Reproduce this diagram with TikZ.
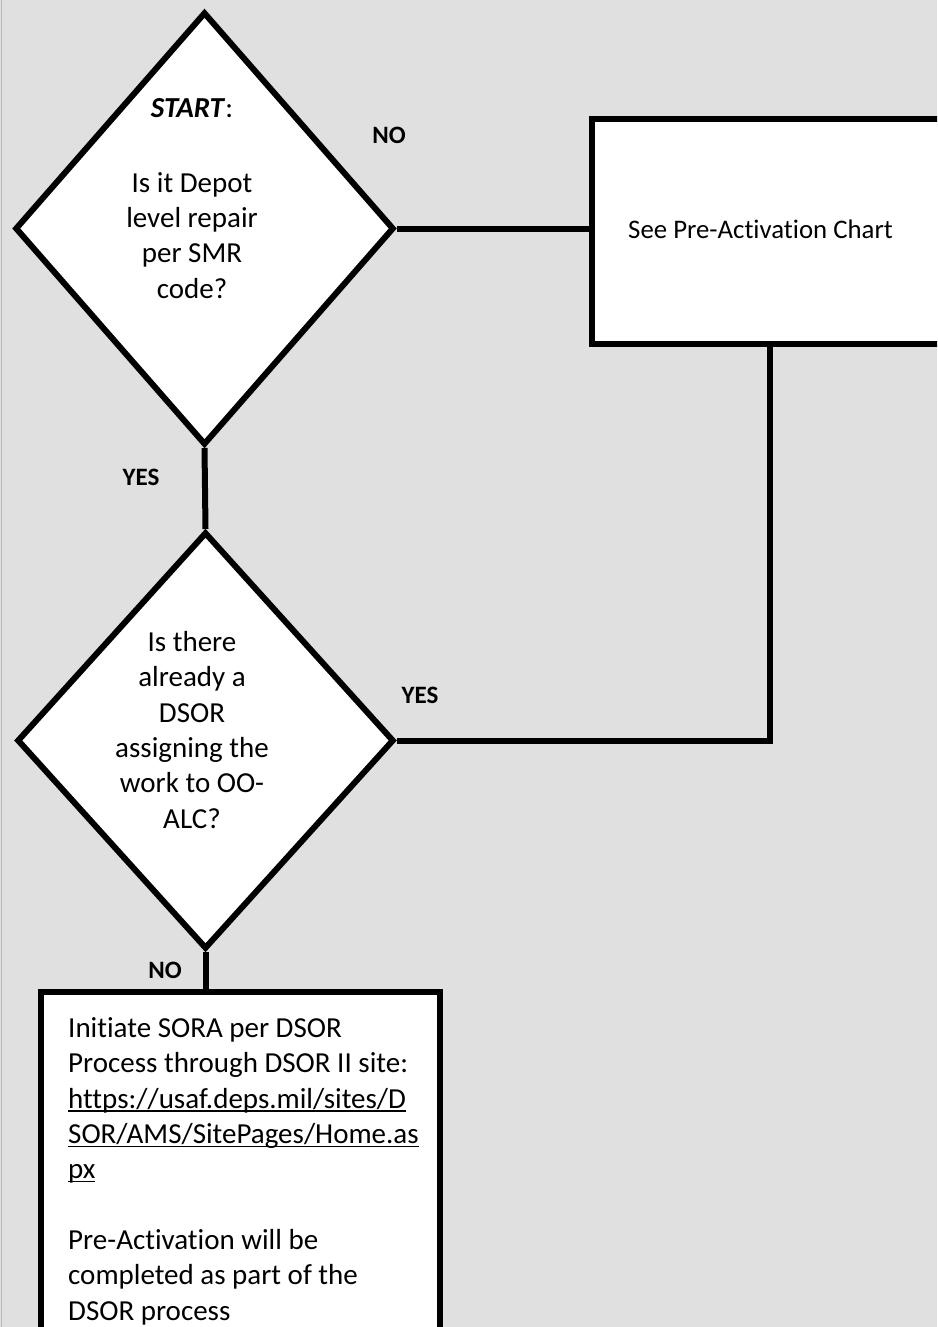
\documentclass[tikz,border=0pt]{standalone}
\usepackage{fontspec}
\setmainfont[RawFeature=-liga]{Carlito}
\usetikzlibrary{shapes.geometric}
\definecolor{pagebg}{HTML}{E0E0E0}
\definecolor{pageedge}{HTML}{B8B8B8}
% underline drawn as a rule at a fixed depth below the baseline
\newcommand\lnk[1]{\setbox0\hbox{#1}\rlap{\rule[-3.5pt]{\wd0}{1.4pt}}\box0}
\begin{document}
\begin{tikzpicture}[x=1pt,y=-1pt,
  decision/.style={diamond, draw=black, line width=6pt, fill=white, inner sep=0pt, line join=miter},
  stepbox/.style={rectangle, draw=black, line width=6pt, fill=white, inner sep=0pt},
  flow/.style={draw=black, line width=6pt},
  qtext/.style={align=center, font=\fontsize{29}{35.3}\selectfont, inner sep=0pt, anchor=base},
  btext/.style={align=left, font=\fontsize{29}{35.3}\selectfont, inner sep=0pt, anchor=base west},
  lbl/.style={font=\fontsize{25}{30}\selectfont\bfseries, inner sep=0pt}]
\useasboundingbox (0,0) rectangle (937,1327);
\fill[pagebg] (0,0) rectangle (937,1327);
\draw[pageedge, line width=1.5pt] (1.5,0) -- (1.5,1327);
\clip (0,0) rectangle (937,1327);

% shapes
\node[decision, minimum width=379pt, minimum height=433pt] (q1) at (204.5,228.5) {};
\node[decision, minimum width=377pt, minimum height=417pt] (q2) at (205.5,740.5) {};
\node[stepbox, minimum width=508.5pt, minimum height=224.5pt] (chart) at (845.75,231.25) {};
\node[stepbox, minimum width=399pt, minimum height=400pt] (sora) at (240,1191.5) {};

% texts (the base anchor sits on the last line)
\node[qtext] (q1t) at (192,298) {\textbf{\textit{START}}:\\[39.7pt]Is it Depot\\level repair\\per SMR\\code?};
\node[qtext] (q2t) at (192,828) {Is there\\already a\\DSOR\\assigning the\\work to OO-\\ALC?};
\node[font=\fontsize{26.8}{35.3}\selectfont, inner sep=0pt, anchor=west] (chartt) at (628,229) {See Pre-Activation Chart};
\node[btext] (sorat) at (68,1320) {Initiate SORA per DSOR\\Process through DSOR II site:\\\lnk{https://usaf.deps.mil/sites/D}\\\lnk{SOR/AMS/SitePages/Home.as}\\\lnk{px}\\[35.3pt]Pre-Activation will be\\completed as part of the\\DSOR process};

% connectors
\coordinate (turn) at (770,740.5);
\draw[flow] (q1.east) -- (q1.east -| chart.west);
\draw[flow] (q1.south) -- (q2.north);
\draw[flow] (turn |- chart.south) -- (turn) -- (q2.east);
\draw[flow] (q2.south) -- (q2.south |- sora.north);

% branch labels
\node[lbl] (noA) at (389,135) {NO};
\node[lbl] (yesA) at (141,477) {YES};
\node[lbl] (yesB) at (420,695) {YES};
\node[lbl] (noB) at (165,970) {NO};
\end{tikzpicture}
\end{document}
